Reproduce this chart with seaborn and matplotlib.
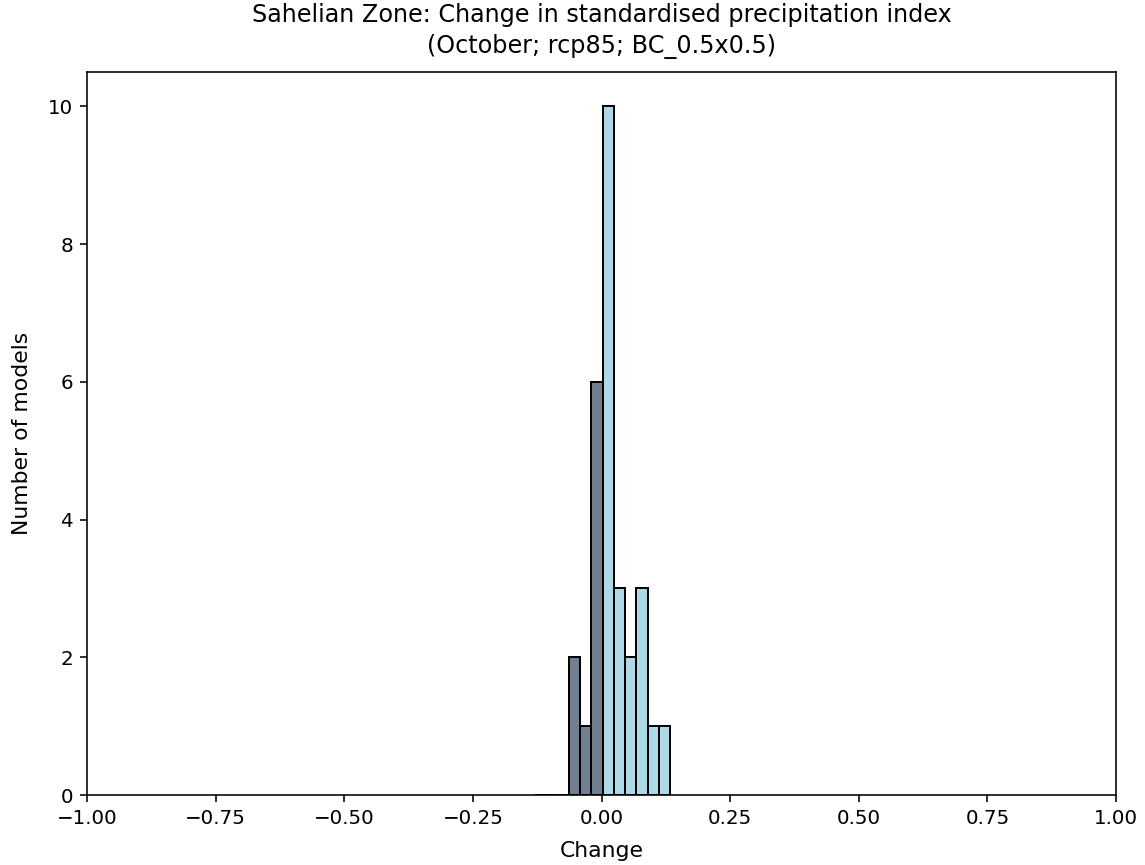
import numpy as np
import pandas as pd
import matplotlib
matplotlib.use("Agg")
import matplotlib.pyplot as plt
import seaborn as sns

# Histogram bin edges and counts
bin_edges = [-0.129, -0.1072, -0.0853, -0.0635, -0.0416, -0.0198, 0.0021,
             0.0239, 0.0458, 0.0676, 0.0895, 0.1113, 0.1332]
counts = [0, 0, 0, 2, 1, 6, 10, 3, 2, 3, 1, 1]
n_negative_bins = 6

title = "Sahelian Zone: Change in standardised precipitation index\n(October; rcp85; BC_0.5x0.5)"
xlabel = "Change"
ylabel = "Number of models"

DPI = 143.125
fig = plt.figure(figsize=(1145 / DPI, 865 / DPI), dpi=DPI)
ax = fig.add_axes([0.076, 0.0809, 0.8987, 0.8359])

edges = np.array(bin_edges)
centers = (edges[:-1] + edges[1:]) / 2
df = pd.DataFrame({"change": centers, "n": counts})

k = n_negative_bins
sns.histplot(data=df.iloc[:k], x="change", weights="n",
             bins=list(bin_edges[:k + 1]), ax=ax,
             color="slategray", alpha=1.0, edgecolor="black", linewidth=1.0)
sns.histplot(data=df.iloc[k:], x="change", weights="n",
             bins=list(bin_edges[k:]), ax=ax,
             color="lightblue", alpha=1.0, edgecolor="black", linewidth=1.0)

ax.set_xlim(-1, 1)
ax.set_ylim(0, 10.5)
ax.set_xticks(np.arange(-1, 1.01, 0.25))
ax.set_yticks([0, 2, 4, 6, 8, 10])
ax.tick_params(axis="both", labelsize=10)
ax.set_title(title, fontsize=12, pad=9.5, linespacing=1.38)
ax.set_xlabel(xlabel, fontsize=11, labelpad=6.5)
ax.set_ylabel(ylabel, fontsize=11, labelpad=8)

fig.savefig("out.png", dpi=DPI)
